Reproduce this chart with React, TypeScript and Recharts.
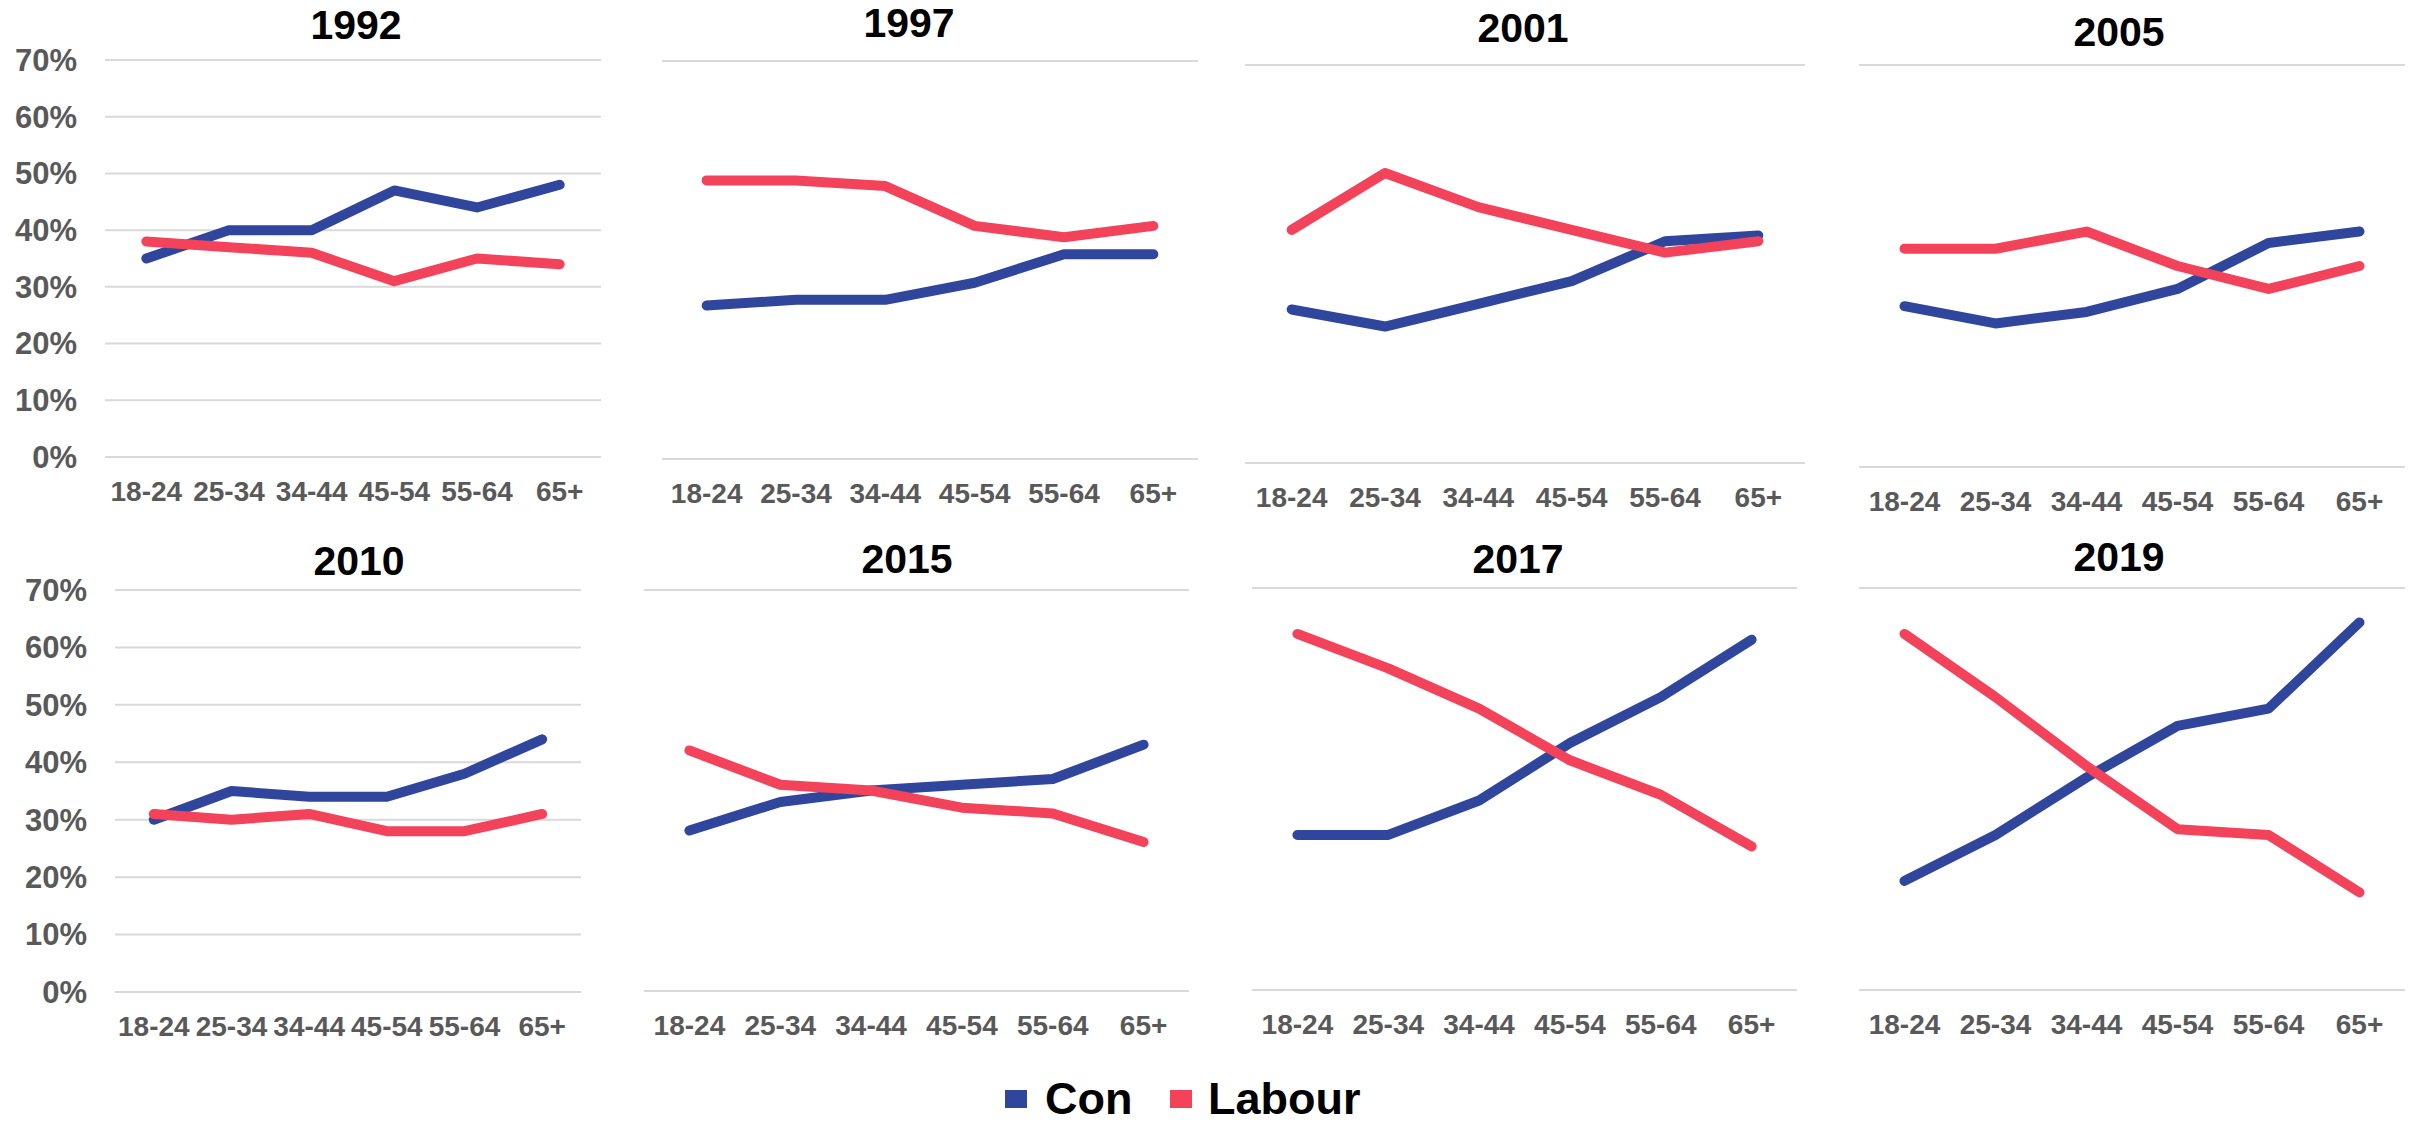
import React from 'react';
import { LineChart, Line, XAxis, YAxis, CartesianGrid } from 'recharts';

const ageGroups = ['18-24', '25-34', '34-44', '45-54', '55-64', '65+'];
const years = ['1992', '1997', '2001', '2005', '2010', '2015', '2017', '2019'];

const con1992 = [35, 40, 40, 47, 44, 48];
const lab1992 = [38, 37, 36, 31, 35, 34];
const con1997 = [27, 28, 28, 31, 36, 36];
const lab1997 = [49, 49, 48, 41, 39, 41];
const con2001 = [27, 24, 28, 32, 39, 40];
const lab2001 = [41, 51, 45, 41, 37, 39];
const con2005 = [28, 25, 27, 31, 39, 41];
const lab2005 = [38, 38, 41, 35, 31, 35];
const con2010 = [30, 35, 34, 34, 38, 44];
const lab2010 = [31, 30, 31, 28, 28, 31];
const con2015 = [28, 33, 35, 36, 37, 43];
const lab2015 = [42, 36, 35, 32, 31, 26];
const con2017 = [27, 27, 33, 43, 51, 61];
const lab2017 = [62, 56, 49, 40, 34, 25];
const con2019 = [19, 27, 37, 46, 49, 64];
const lab2019 = [62, 51, 39, 28, 27, 17];

const conByYear = [con1992, con1997, con2001, con2005, con2010, con2015, con2017, con2019];
const labByYear = [lab1992, lab1997, lab2001, lab2005, lab2010, lab2015, lab2017, lab2019];

const yTicks = [0, 10, 20, 30, 40, 50, 60, 70];

const seriesNames = ['Con', 'Labour'];
const COLORS = ['#2F469C', '#F2435A'];
const TICK_GREY = '#595959';
const GRID_GREY = '#D9D9D9';
const FONT = '"Liberation Sans", Arial, sans-serif';

// plot area of each panel: [left, top, right, bottom], title centre, y labels shown
const panels = [
  { plot: [105, 60, 601, 457], title: [356, 25], showY: true },
  { plot: [662, 61, 1198, 459], title: [909, 23], showY: false },
  { plot: [1245, 65, 1805, 463], title: [1523, 28], showY: false },
  { plot: [1859, 65, 2405, 467], title: [2119, 32], showY: false },
  { plot: [115, 590, 581, 992], title: [359, 561], showY: true },
  { plot: [644, 590, 1189, 991], title: [907, 559], showY: false },
  { plot: [1252, 588, 1797, 990], title: [1518, 559], showY: false },
  { plot: [1859, 588, 2405, 990], title: [2119, 557], showY: false },
];

const TOP_PAD = 30;
const RIGHT_PAD = 10;
const X_AXIS_H = 60;

const XTick = (props: any) => {
  const { x, y, payload } = props;
  return (
    <text x={x} y={y} dy="0.35em" textAnchor="middle" fill={TICK_GREY} fontSize={28} fontWeight="bold" fontFamily={FONT}>
      {payload.value}
    </text>
  );
};

const YTick = (props: any) => {
  const { x, y, payload } = props;
  return (
    <text x={x} y={y} dy="0.35em" textAnchor="end" fill={TICK_GREY} fontSize={31} fontWeight="bold" fontFamily={FONT}>
      {`${payload.value}%`}
    </text>
  );
};

function Panel({ idx }: { idx: number }) {
  const p = panels[idx];
  const [l, t, r, b] = p.plot;
  const yw = p.showY ? l : 0;
  const plotW = r - l;
  const pad = plotW / 12;
  const data = ageGroups.map((age, i) => ({
    age,
    Con: conByYear[idx][i],
    Labour: labByYear[idx][i],
  }));

  return (
    <div style={{ position: 'absolute', left: l - yw, top: t - TOP_PAD }}>
      <LineChart
        width={plotW + yw + RIGHT_PAD}
        height={b - t + TOP_PAD + X_AXIS_H}
        data={data}
        margin={{ top: TOP_PAD, right: RIGHT_PAD, left: 0, bottom: 0 }}
      >
        <CartesianGrid vertical={false} stroke={GRID_GREY} strokeWidth={2} />
        <XAxis
          dataKey="age"
          axisLine={false}
          tickLine={false}
          tickSize={0}
          tickMargin={34}
          height={X_AXIS_H}
          padding={{ left: pad, right: pad }}
          interval={0}
          tick={<XTick />}
        />
        <YAxis
          domain={[0, 70]}
          ticks={yTicks}
          width={yw}
          axisLine={false}
          tickLine={false}
          tickSize={0}
          tickMargin={28}
          tick={p.showY ? <YTick /> : false}
        />
        {seriesNames.map((name, i) => (
          <Line
            key={name}
            type="linear"
            dataKey={name}
            stroke={COLORS[i]}
            strokeWidth={10}
            strokeLinecap="round"
            strokeLinejoin="round"
            dot={false}
            activeDot={false}
            isAnimationActive={false}
          />
        ))}
      </LineChart>
    </div>
  );
}

export default function App() {
  const legendItems = [
    { square: 1005, text: 1045 },
    { square: 1170, text: 1208 },
  ];
  return (
    <div style={{ position: 'absolute', left: 0, top: 0, width: 2415, height: 1124, background: '#fff', fontFamily: FONT }}>
      {panels.map((_, i) => (
        <Panel key={years[i]} idx={i} />
      ))}
      <svg width={2415} height={1124} style={{ position: 'absolute', left: 0, top: 0, pointerEvents: 'none' }}>
        {panels.map((p, i) => (
          <text
            key={years[i]}
            x={p.title[0]}
            y={p.title[1]}
            dy="0.35em"
            textAnchor="middle"
            fontSize={41}
            fontWeight="bold"
            fill="#000"
            fontFamily={FONT}
          >
            {years[i]}
          </text>
        ))}
        {seriesNames.map((name, i) => (
          <g key={name}>
            <rect x={legendItems[i].square} y={1090} width={22} height={18} fill={COLORS[i]} />
            <text
              x={legendItems[i].text}
              y={1098}
              dy="0.35em"
              textAnchor="start"
              fontSize={45}
              fontWeight="bold"
              fill="#000"
              fontFamily={FONT}
            >
              {name}
            </text>
          </g>
        ))}
      </svg>
    </div>
  );
}
